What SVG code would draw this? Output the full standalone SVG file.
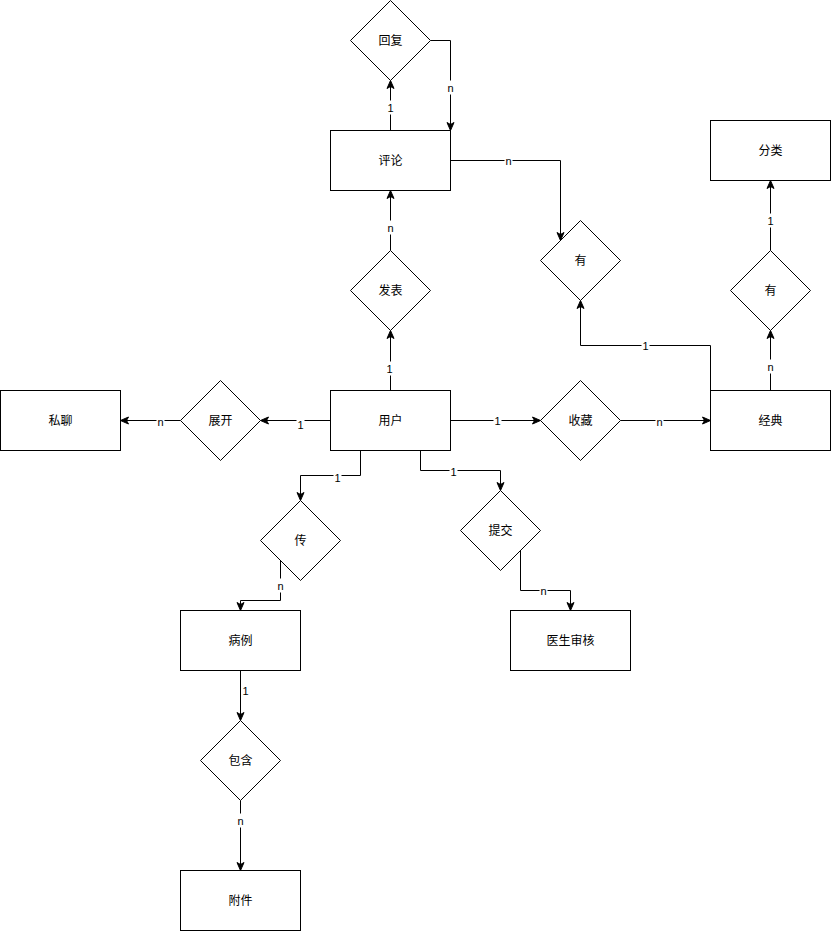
<svg xmlns="http://www.w3.org/2000/svg" width="831" height="931" viewBox="0 0 831 931">
<defs>
<marker id="arr" markerUnits="userSpaceOnUse" markerWidth="10" markerHeight="10" viewBox="0 0 10 10" refX="9" refY="5" orient="auto">
<path d="M1,1.5 L9,5 L1,8.5 L3,5 Z" fill="#000" stroke="#000" stroke-width="1"/>
</marker>
</defs>
<style>
.n{fill:#fff;stroke:#000;stroke-width:1}
.t{font-family:"Liberation Sans","Noto Sans CJK SC",sans-serif;font-size:12px;fill:#000;text-anchor:middle;dominant-baseline:central}
.e{fill:none;stroke:#000;stroke-width:1;marker-end:url(#arr)}
.lb{fill:#fff}
.l{font-family:"Liberation Sans","Noto Sans CJK SC",sans-serif;font-size:11px;fill:#000;text-anchor:middle;dominant-baseline:central}
</style>
<rect width="831" height="931" fill="#fff"/>
<g transform="translate(0.5,0.5)">
<g id="connectors">
<path class="e" d="M390,130 L390,80"/>
<path class="e" d="M430,40 L450,40 L450,130"/>
<path class="e" d="M450,160 L560,160 L560,240"/>
<path class="e" d="M710,390 L710,345 L580,345 L580,300"/>
<path class="e" d="M770,390 L770,330"/>
<path class="e" d="M770,250 L770,180"/>
<path class="e" d="M390,390 L390,330"/>
<path class="e" d="M390,250 L390,190"/>
<path class="e" d="M450,420 L540,420"/>
<path class="e" d="M620,420 L710,420"/>
<path class="e" d="M330,420 L260,420"/>
<path class="e" d="M180,420 L120,420"/>
<path class="e" d="M360,450 L360,475 L300,475 L300,500"/>
<path class="e" d="M420,450 L420,470 L500,470 L500,490"/>
<path class="e" d="M280,560 L280,600 L240,600 L240,610"/>
<path class="e" d="M520,550 L520,590 L570,590 L570,610"/>
<path class="e" d="M240,670 L240,720"/>
<path class="e" d="M240,800 L240,870"/>
<g>
<rect class="lb" x="386" y="100" width="8" height="14"/><text class="l" x="390" y="107">1</text>
<rect class="lb" x="446" y="80" width="8" height="14"/><text class="l" x="450" y="87">n</text>
<rect class="lb" x="504" y="153" width="8" height="14"/><text class="l" x="508" y="160">n</text>
<rect class="lb" x="641" y="338" width="8" height="14"/><text class="l" x="645" y="345">1</text>
<rect class="lb" x="766" y="359" width="8" height="14"/><text class="l" x="770" y="366">n</text>
<rect class="lb" x="766" y="213" width="8" height="14"/><text class="l" x="770" y="220">1</text>
<rect class="lb" x="385" y="361" width="8" height="14"/><text class="l" x="389" y="368">1</text>
<rect class="lb" x="386" y="220" width="8" height="14"/><text class="l" x="390" y="227">n</text>
<rect class="lb" x="493" y="413" width="8" height="14"/><text class="l" x="497" y="420">1</text>
<rect class="lb" x="655" y="413" width="8" height="14"/><text class="l" x="659" y="421">n</text>
<rect class="lb" x="296" y="416" width="8" height="14"/><text class="l" x="300" y="424">1</text>
<rect class="lb" x="156" y="413" width="8" height="14"/><text class="l" x="160" y="421">n</text>
<rect class="lb" x="333" y="470" width="8" height="14"/><text class="l" x="337" y="477">1</text>
<rect class="lb" x="449" y="464" width="8" height="14"/><text class="l" x="453" y="471">1</text>
<rect class="lb" x="276" y="578" width="8" height="14"/><text class="l" x="280" y="585">n</text>
<rect class="lb" x="539" y="583" width="8" height="14"/><text class="l" x="543" y="590">n</text>
<rect class="lb" x="241" y="683" width="8" height="14"/><text class="l" x="245" y="690">1</text>
<rect class="lb" x="236" y="813" width="8" height="14"/><text class="l" x="240" y="820">n</text>
</g>
</g>
<g id="huifu"><path class="n" d="M390,0 L430,40 L390,80 L350,40 Z"/><text class="t" x="390" y="40">回复</text></g>
<g id="pinglun"><rect class="n" x="330" y="130" width="120" height="60"/><text class="t" x="390" y="160">评论</text></g>
<g id="you1"><path class="n" d="M580,220 L620,260 L580,300 L540,260 Z"/><text class="t" x="580" y="260">有</text></g>
<g id="fenlei"><rect class="n" x="710" y="120" width="120" height="60"/><text class="t" x="770" y="150">分类</text></g>
<g id="you2"><path class="n" d="M770,250 L810,290 L770,330 L730,290 Z"/><text class="t" x="770" y="290">有</text></g>
<g id="fabiao"><path class="n" d="M390,250 L430,290 L390,330 L350,290 Z"/><text class="t" x="390" y="290">发表</text></g>
<g id="yonghu"><rect class="n" x="330" y="390" width="120" height="60"/><text class="t" x="390" y="420">用户</text></g>
<g id="shoucang"><path class="n" d="M580,380 L620,420 L580,460 L540,420 Z"/><text class="t" x="580" y="420">收藏</text></g>
<g id="jingdian"><rect class="n" x="710" y="390" width="120" height="60"/><text class="t" x="770" y="420">经典</text></g>
<g id="zhankai"><path class="n" d="M220,380 L260,420 L220,460 L180,420 Z"/><text class="t" x="220" y="420">展开</text></g>
<g id="siliao"><rect class="n" x="0" y="390" width="120" height="60"/><text class="t" x="60" y="420">私聊</text></g>
<g id="chuan"><path class="n" d="M300,500 L340,540 L300,580 L260,540 Z"/><text class="t" x="300" y="540">传</text></g>
<g id="tijiao"><path class="n" d="M500,490 L540,530 L500,570 L460,530 Z"/><text class="t" x="500" y="530">提交</text></g>
<g id="bingli"><rect class="n" x="180" y="610" width="120" height="60"/><text class="t" x="240" y="640">病例</text></g>
<g id="yishengshenhe"><rect class="n" x="510" y="610" width="120" height="60"/><text class="t" x="570" y="640">医生审核</text></g>
<g id="baohan"><path class="n" d="M240,720 L280,760 L240,800 L200,760 Z"/><text class="t" x="240" y="760">包含</text></g>
<g id="fujian"><rect class="n" x="180" y="870" width="120" height="60"/><text class="t" x="240" y="900">附件</text></g>
</g>
</svg>
